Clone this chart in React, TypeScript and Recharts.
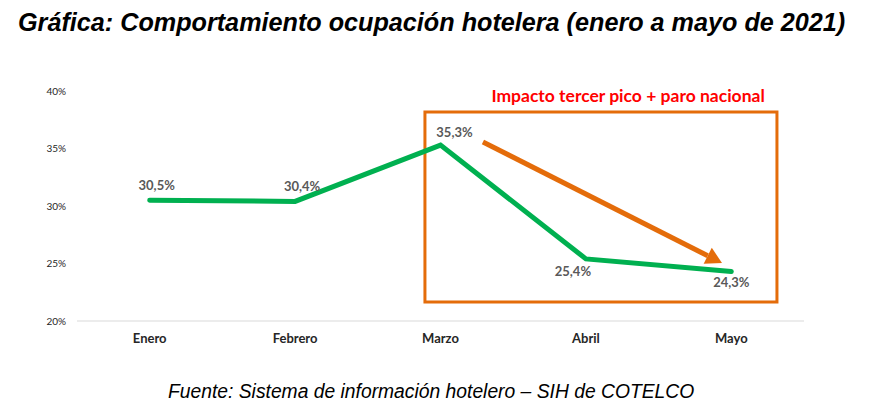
import { LineChart, Line, XAxis, YAxis, LabelList, ReferenceArea, ReferenceLine, ReferenceDot } from "recharts";

const months = ["Enero", "Febrero", "Marzo", "Abril", "Mayo"];
const occupancy = [30.5, 30.4, 35.3, 25.4, 24.3];
const yTicks = [20, 25, 30, 35, 40];

// annotation box / arrow in data units (x = month index)
const boxX = [1.893, 4.314];
const boxY = [21.65, 38.17];
const arrowStart = { x: 2.292, y: 35.57 };
const arrowEnd = { x: 3.936, y: 25.04 };
const noteAt = { x: 3.29, y: 39.57 };
const noteText = "Impacto tercer pico + paro nacional";

const data = months.map((m, i) => ({ idx: i, month: m, value: occupancy[i] }));

const GREEN = "#00B050";
const ORANGE = "#E46C0A";
const FONT = "Lato, 'Open Sans', sans-serif";

const fmt = (v: number) => `${v.toFixed(1).replace(".", ",")}%`;

// label offsets per point (dx, baseline dy)
const labelShift = [
  [7, -10],
  [7, -10],
  [14, -8],
  [-13, 17],
  [0, 15],
];

function PointLabel(props: any) {
  const { x, y, value, index } = props;
  const [dx, dy] = labelShift[index] || [0, -10];
  return (
    <text
      x={x + dx}
      y={y + dy}
      textAnchor="middle"
      fontSize={13}
      fontWeight={700}
      fill="#595959"
      fontFamily={FONT}
    >
      {fmt(value)}
    </text>
  );
}

function Arrow(props: any) {
  const { x1, y1, x2, y2 } = props;
  if (x1 == null) return null;
  const ang = Math.atan2(y2 - y1, x2 - x1);
  const head = 16;
  const w = 9;
  const bx = x2 - head * Math.cos(ang);
  const by = y2 - head * Math.sin(ang);
  const px = -Math.sin(ang) * w;
  const py = Math.cos(ang) * w;
  return (
    <g>
      <line x1={x1} y1={y1} x2={bx} y2={by} stroke={ORANGE} strokeWidth={5} />
      <polygon points={`${x2},${y2} ${bx + px},${by + py} ${bx - px},${by - py}`} fill={ORANGE} />
    </g>
  );
}

export default function App() {
  return (
    <div style={{ position: "absolute", left: 0, top: 0, width: 871, height: 420, background: "#fff" }}>
      <div
        style={{
          position: "absolute",
          left: 18,
          top: 8,
          whiteSpace: "nowrap",
          fontFamily: "'Liberation Sans', Arial, sans-serif",
          fontStyle: "italic",
          fontWeight: 700,
          fontSize: 25.2,
          color: "#000",
        }}
      >
        Gráfica: Comportamiento ocupación hotelera (enero a mayo de 2021)
      </div>
      <LineChart
        width={871}
        height={420}
        data={data}
        margin={{ top: 91, right: 67, bottom: 69, left: 17 }}
        style={{ position: "absolute", left: 0, top: 0 }}
      >
        <XAxis
          dataKey="idx"
          type="number"
          domain={[-0.5, 4.5]}
          ticks={[0, 1, 2, 3, 4]}
          tickFormatter={(i: number) => months[i]}
          axisLine={{ stroke: "#D9D9D9" }}
          tickLine={false}
          tickSize={0}
          tickMargin={13}
          tick={{ fontSize: 13, fontWeight: 700, fill: "#262626", fontFamily: FONT }}
          interval={0}
        />
        <YAxis
          width={60}
          domain={[20, 40]}
          ticks={yTicks}
          tickFormatter={(v: number) => `${v}%`}
          axisLine={false}
          tickLine={false}
          tickSize={0}
          tickMargin={11}
          tick={{ fontSize: 10, fill: "#262626", fontFamily: FONT }}
        />
        <ReferenceArea
          x1={boxX[0]}
          x2={boxX[1]}
          y1={boxY[0]}
          y2={boxY[1]}
          fill="none"
          fillOpacity={0}
          stroke={ORANGE}
          strokeWidth={3}
          ifOverflow="visible"
        />
        <ReferenceLine
          segment={[arrowStart, arrowEnd]}
          shape={Arrow}
          ifOverflow="visible"
        />
        <ReferenceDot
          x={noteAt.x}
          y={noteAt.y}
          r={0}
          fill="none"
          stroke="none"
          ifOverflow="visible"
          label={{
            value: noteText,
            position: "center",
            fill: "#FF0000",
            fontSize: 17.5,
            fontWeight: 700,
            fontFamily: FONT,
          }}
        />
        <Line
          type="linear"
          dataKey="value"
          stroke={GREEN}
          strokeWidth={5}
          strokeLinecap="round"
          dot={false}
          activeDot={false}
          isAnimationActive={false}
        >
          <LabelList dataKey="value" content={PointLabel} />
        </Line>
      </LineChart>
      <div
        style={{
          position: "absolute",
          left: 168,
          top: 381,
          whiteSpace: "nowrap",
          fontFamily: "'Liberation Sans', Arial, sans-serif",
          fontStyle: "italic",
          fontSize: 19.3,
          color: "#000",
        }}
      >
        Fuente: Sistema de información hotelero – SIH de COTELCO
      </div>
    </div>
  );
}
